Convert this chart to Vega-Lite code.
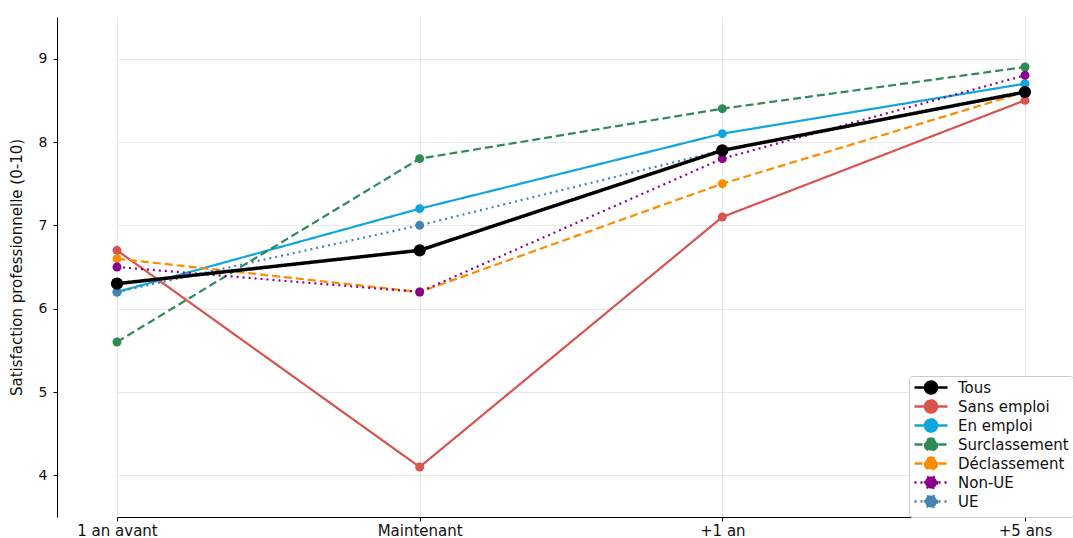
{
  "$schema": "https://vega.github.io/schema/vega-lite/v6.json",
  "width": 1016,
  "height": 500,
  "autosize": "none",
  "padding": {"left": 57, "top": 17, "right": 0, "bottom": 21},
  "background": "white",
  "config": {
    "font": "DejaVu Sans",
    "view": {"stroke": null},
    "axis": {
      "domainColor": "#000000",
      "domainWidth": 1,
      "tickColor": "#000000",
      "tickSize": 4,
      "labelFontSize": 13,
      "labelColor": "#111111",
      "gridColor": "#e8e8e8",
      "gridWidth": 1,
      "titleFontWeight": "normal",
      "titleFontSize": 15,
      "titleColor": "#111111"
    }
  },
  "data": {
    "values": [
      {"serie": "Sans emploi", "periode": "1 an avant", "valeur": 6.7},
      {"serie": "Sans emploi", "periode": "Maintenant", "valeur": 4.1},
      {"serie": "Sans emploi", "periode": "+1 an", "valeur": 7.1},
      {"serie": "Sans emploi", "periode": "+5 ans", "valeur": 8.5},
      {"serie": "En emploi", "periode": "1 an avant", "valeur": 6.2},
      {"serie": "En emploi", "periode": "Maintenant", "valeur": 7.2},
      {"serie": "En emploi", "periode": "+1 an", "valeur": 8.1},
      {"serie": "En emploi", "periode": "+5 ans", "valeur": 8.7},
      {"serie": "Surclassement", "periode": "1 an avant", "valeur": 5.6},
      {"serie": "Surclassement", "periode": "Maintenant", "valeur": 7.8},
      {"serie": "Surclassement", "periode": "+1 an", "valeur": 8.4},
      {"serie": "Surclassement", "periode": "+5 ans", "valeur": 8.9},
      {"serie": "Déclassement", "periode": "1 an avant", "valeur": 6.6},
      {"serie": "Déclassement", "periode": "Maintenant", "valeur": 6.2},
      {"serie": "Déclassement", "periode": "+1 an", "valeur": 7.5},
      {"serie": "Déclassement", "periode": "+5 ans", "valeur": 8.6},
      {"serie": "Non-UE", "periode": "1 an avant", "valeur": 6.5},
      {"serie": "Non-UE", "periode": "Maintenant", "valeur": 6.2},
      {"serie": "Non-UE", "periode": "+1 an", "valeur": 7.8},
      {"serie": "Non-UE", "periode": "+5 ans", "valeur": 8.8},
      {"serie": "UE", "periode": "1 an avant", "valeur": 6.2},
      {"serie": "UE", "periode": "Maintenant", "valeur": 7.0},
      {"serie": "UE", "periode": "+1 an", "valeur": 7.9},
      {"serie": "UE", "periode": "+5 ans", "valeur": 8.6},
      {"serie": "Tous", "periode": "1 an avant", "valeur": 6.3},
      {"serie": "Tous", "periode": "Maintenant", "valeur": 6.7},
      {"serie": "Tous", "periode": "+1 an", "valeur": 7.9},
      {"serie": "Tous", "periode": "+5 ans", "valeur": 8.6}
    ]
  },
  "encoding": {
    "x": {
      "field": "periode",
      "type": "ordinal",
      "sort": ["1 an avant", "Maintenant", "+1 an", "+5 ans"],
      "scale": {"type": "point", "range": [60, 968], "padding": 0},
      "axis": {"title": null, "labelAngle": 0, "grid": true, "labelPadding": 2, "labelFontSize": 15}
    },
    "y": {
      "field": "valeur",
      "type": "quantitative",
      "scale": {"domain": [3.5, 9.5], "nice": false, "zero": false},
      "axis": {"title": "Satisfaction professionnelle (0-10)", "values": [4, 5, 6, 7, 8, 9], "grid": true, "titlePadding": 14, "labelPadding": 6, "labelFontSize": 14}
    },
    "color": {
      "field": "serie",
      "type": "nominal",
      "sort": ["Tous", "Sans emploi", "En emploi", "Surclassement", "Déclassement", "Non-UE", "UE"],
      "scale": {
        "domain": ["Tous", "Sans emploi", "En emploi", "Surclassement", "Déclassement", "Non-UE", "UE"],
        "range": ["#000000", "#d9534f", "#0ea5e0", "#2e8b57", "#ff8c00", "#8b008b", "#4682b4"]
      },
      "legend": {
        "title": null,
        "orient": "none",
        "legendX": 852,
        "legendY": 359,
        "fillColor": "white",
        "strokeColor": "#cccccc",
        "padding": 4,
        "cornerRadius": 3,
        "labelFontSize": 15,
        "labelColor": "#111111",
        "symbolType": "M -1 0 L 4.5 0 M 2.75 0 A 1 1 0 1 1 0.75 0 A 1 1 0 1 1 2.75 0 Z",
        "symbolSize": 144,
        "symbolStrokeWidth": 2.5,
        "rowPadding": -5,
        "labelOffset": 30
      }
    },
    "strokeDash": {
      "field": "serie",
      "type": "nominal",
      "sort": ["Tous", "Sans emploi", "En emploi", "Surclassement", "Déclassement", "Non-UE", "UE"],
      "scale": {
        "domain": ["Tous", "Sans emploi", "En emploi", "Surclassement", "Déclassement", "Non-UE", "UE"],
        "range": [[1, 0], [1, 0], [1, 0], [8, 4], [8, 4], [2, 4], [2, 4]]
      }
    }
  },
  "layer": [
    {
      "transform": [{"filter": "datum.serie !== 'Tous'"}],
      "mark": {"type": "line", "strokeWidth": 2.2}
    },
    {
      "transform": [{"filter": "datum.serie !== 'Tous'"}],
      "mark": {"type": "point", "filled": true, "opacity": 1, "size": 80, "strokeDash": [1, 0]}
    },
    {
      "transform": [{"filter": "datum.serie === 'Tous'"}],
      "mark": {"type": "line", "strokeWidth": 3.5}
    },
    {
      "transform": [{"filter": "datum.serie === 'Tous'"}],
      "mark": {"type": "point", "filled": true, "opacity": 1, "size": 150}
    }
  ]
}
